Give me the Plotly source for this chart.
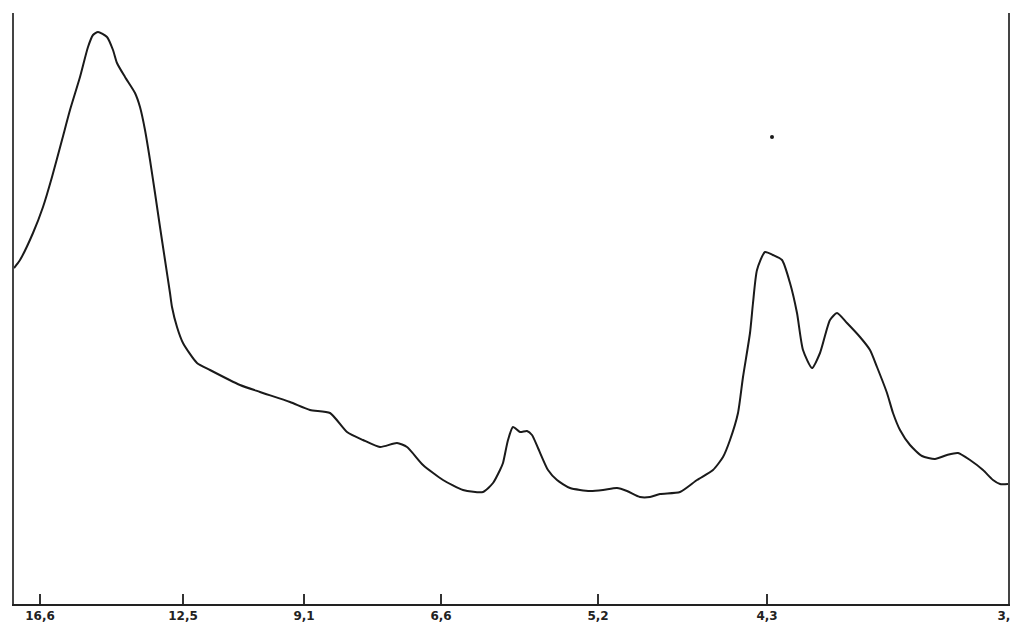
import plotly.graph_objects as go

# Trace of the spectrum (x: chart scale position, y: signal units)
pos = [0, 6, 19, 29, 38, 48, 56, 66, 74, 79, 84, 93, 99, 103, 111, 121, 126, 131, 136, 141,
       146, 151, 156, 158, 163, 169, 183, 196, 226, 246, 276, 296, 316, 333, 349, 366, 383,
       393, 409, 429, 449, 469, 479, 486, 489, 494, 499, 506, 513, 518, 524, 534, 543, 556,
       576, 589, 603, 613, 626, 636, 646, 666, 683, 699, 709, 716, 724, 729, 736, 739, 743,
       751, 759, 768, 776, 783, 789, 798, 806, 816, 823, 833, 846, 856, 863, 873, 879, 886,
       896, 908, 921, 933, 944, 956, 969, 979, 986, 994]
signal = [336, 344, 371, 397, 427, 464, 494, 527, 557, 569, 572, 567, 554, 541, 527, 511, 497,
          474, 444, 411, 377, 344, 311, 297, 277, 261, 241, 234, 219, 212, 202, 194, 191, 172,
          164, 157, 161, 157, 139, 124, 114, 112, 121, 134, 141, 164, 177, 172, 173, 169, 156,
          134, 124, 116, 113, 114, 116, 113, 107, 107, 110, 112, 124, 134, 147, 164, 191, 227,
          271, 301, 334, 352, 349, 344, 321, 291, 254, 236, 251, 284, 291, 281, 267, 254, 237,
          211, 191, 174, 159, 148, 145, 149, 151, 144, 134, 124, 120, 120]

# Isolated dot above the 4.3 band
dot_pos = [758]
dot_signal = [467]

# Wavelength tick marks
tick_pos = [26, 169, 290, 427, 584, 753, 994]
tick_labels = ["16,6", "12,5", "9,1", "6,6", "5,2", "4,3", "3,3"]

fig = go.Figure()
fig.add_trace(go.Scatter(
    x=pos, y=signal, mode="lines",
    line=dict(color="#1a1a1a", width=2, shape="spline", smoothing=0.6),
    showlegend=False, hoverinfo="skip"))
fig.add_trace(go.Scatter(
    x=dot_pos, y=dot_signal, mode="markers",
    marker=dict(color="#1a1a1a", size=4),
    showlegend=False, hoverinfo="skip"))

fig.update_layout(
    width=1010, height=622,
    margin=dict(l=14, r=2, t=13, b=18, autoexpand=False),
    paper_bgcolor="white", plot_bgcolor="white",
    xaxis=dict(range=[0, 994], showgrid=False, zeroline=False, automargin=False,
               showline=True, linecolor="#222", linewidth=2,
               ticks="inside", ticklen=10, tickwidth=1.5, tickcolor="#333",
               tickvals=tick_pos, ticktext=tick_labels, ticklabeloverflow="allow",
               tickfont=dict(family="DejaVu Sans", size=12, color="#222", weight="bold")),
    yaxis=dict(range=[0, 591], showgrid=False, zeroline=False, automargin=False,
               showline=True, mirror=True, linecolor="#444", linewidth=2,
               showticklabels=False, ticks=""),
)

# remove the browser's default page margin so the figure fills the window exactly
fig.write_html("out.html", config={"displayModeBar": False},
               post_script="document.body.style.margin='0';document.body.style.overflow='hidden';")
